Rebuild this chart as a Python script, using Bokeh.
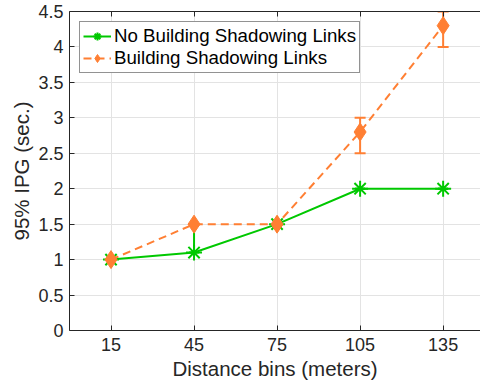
from bokeh.plotting import figure
from bokeh.models import ColumnDataSource, Whisker, TeeHead, LinearAxis, FixedTicker, Range1d
from bokeh.embed import file_html
from bokeh.resources import INLINE

# ---- data ----
distance = [15, 45, 75, 105, 135]
no_shadow = [1.0, 1.1, 1.5, 2.0, 2.0]
no_shadow_lo = [1.0, 1.1, 1.5, 2.0, 2.0]
no_shadow_hi = [1.0, 1.5, 1.5, 2.0, 2.0]
shadow = [1.0, 1.5, 1.5, 2.8, 4.3]
shadow_lo = [1.0, 1.5, 1.5, 2.5, 4.0]
shadow_hi = [1.0, 1.5, 1.5, 3.0, 4.5]
x_ticks = [15, 45, 75, 105, 135]
y_ticks = [0, 0.5, 1, 1.5, 2, 2.5, 3, 3.5, 4, 4.5]

GREEN = "#00c800"
ORANGE = "#ff7f33"
AX = "#262626"
FONT = "Liberation Sans"

p = figure(width=480, height=383, output_backend="svg", toolbar_location=None,
           x_range=Range1d(0, 148.5), y_range=Range1d(0, 4.5),
           min_border_left=69, min_border_right=0, min_border_top=11, min_border_bottom=53)
p.outline_line_color = None
p.background_fill_color = "white"

src_g = ColumnDataSource(dict(x=distance, y=no_shadow, lo=no_shadow_lo, hi=no_shadow_hi))
src_o = ColumnDataSource(dict(x=distance, y=shadow, lo=shadow_lo, hi=shadow_hi))

lbl_g = "No Building Shadowing Links"
lbl_o = "Building Shadowing Links"

p.line("x", "y", source=src_g, color=GREEN, line_width=2, legend_label=lbl_g)
p.add_layout(Whisker(source=src_g, base="x", lower="lo", upper="hi", line_color=GREEN, line_width=2,
                     upper_head=TeeHead(size=10, line_color=GREEN, line_width=2),
                     lower_head=TeeHead(size=10, line_color=GREEN, line_width=2)))
p.scatter("x", "y", source=src_g, marker="asterisk", size=16, line_color=GREEN, line_width=2,
          legend_label=lbl_g)

p.line("x", "y", source=src_o, color=ORANGE, line_width=2, line_dash="8 5", legend_label=lbl_o)
p.add_layout(Whisker(source=src_o, base="x", lower="lo", upper="hi", line_color=ORANGE, line_width=2,
                     upper_head=TeeHead(size=11, line_color=ORANGE, line_width=2),
                     lower_head=TeeHead(size=11, line_color=ORANGE, line_width=2)))
p.scatter("x", "y", source=src_o, marker="diamond", size=18, fill_color=ORANGE, line_color=ORANGE,
          legend_label=lbl_o)

# axes
for ax in (p.xaxis[0], p.yaxis[0]):
    ax.major_tick_in = 5
    ax.major_tick_out = 0
    ax.minor_tick_in = 0
    ax.minor_tick_out = 0
    ax.axis_line_color = AX
    ax.major_tick_line_color = AX
    ax.major_label_text_color = AX
    ax.major_label_text_font = FONT
    ax.major_label_text_font_size = "18px"
    ax.axis_label_text_font = FONT
    ax.axis_label_text_font_size = "20.5px"
    ax.axis_label_text_font_style = "normal"
    ax.axis_label_text_color = AX

p.xaxis[0].ticker = FixedTicker(ticks=x_ticks)
p.yaxis[0].ticker = FixedTicker(ticks=y_ticks)
p.yaxis[0].major_label_overrides = {0: "0", 1: "1", 2: "2", 3: "3", 4: "4"}
p.xaxis[0].axis_label = "Distance bins (meters)"
p.yaxis[0].axis_label = "95% IPG (sec.)"
p.xaxis[0].major_label_standoff = 7
p.yaxis[0].major_label_standoff = 6
p.xaxis[0].axis_label_standoff = 3
p.yaxis[0].axis_label_standoff = 2

top = LinearAxis(ticker=FixedTicker(ticks=x_ticks), major_tick_in=5, major_tick_out=0,
                 minor_tick_in=0, minor_tick_out=0, axis_line_color=AX, major_tick_line_color=AX,
                 major_label_overrides={t: "" for t in x_ticks},
                 major_label_text_font_size="1px", major_label_standoff=0)
p.add_layout(top, "above")

p.xgrid.ticker = FixedTicker(ticks=x_ticks)
p.ygrid.ticker = FixedTicker(ticks=y_ticks)
p.grid.grid_line_color = "#e3e3e3"
p.grid.grid_line_width = 1

leg = p.legend[0]
leg.location = "top_left"
leg.margin = 10
leg.padding = 3
leg.spacing = 0
leg.label_text_font = FONT
leg.label_text_font_size = "18.7px"
leg.label_text_color = "black"
leg.label_height = 20
leg.glyph_height = 20
leg.glyph_width = 28
leg.label_standoff = 3
leg.border_line_color = AX
leg.border_line_width = 1
leg.background_fill_alpha = 1

open("out.html", "w").write(file_html(p, INLINE))
